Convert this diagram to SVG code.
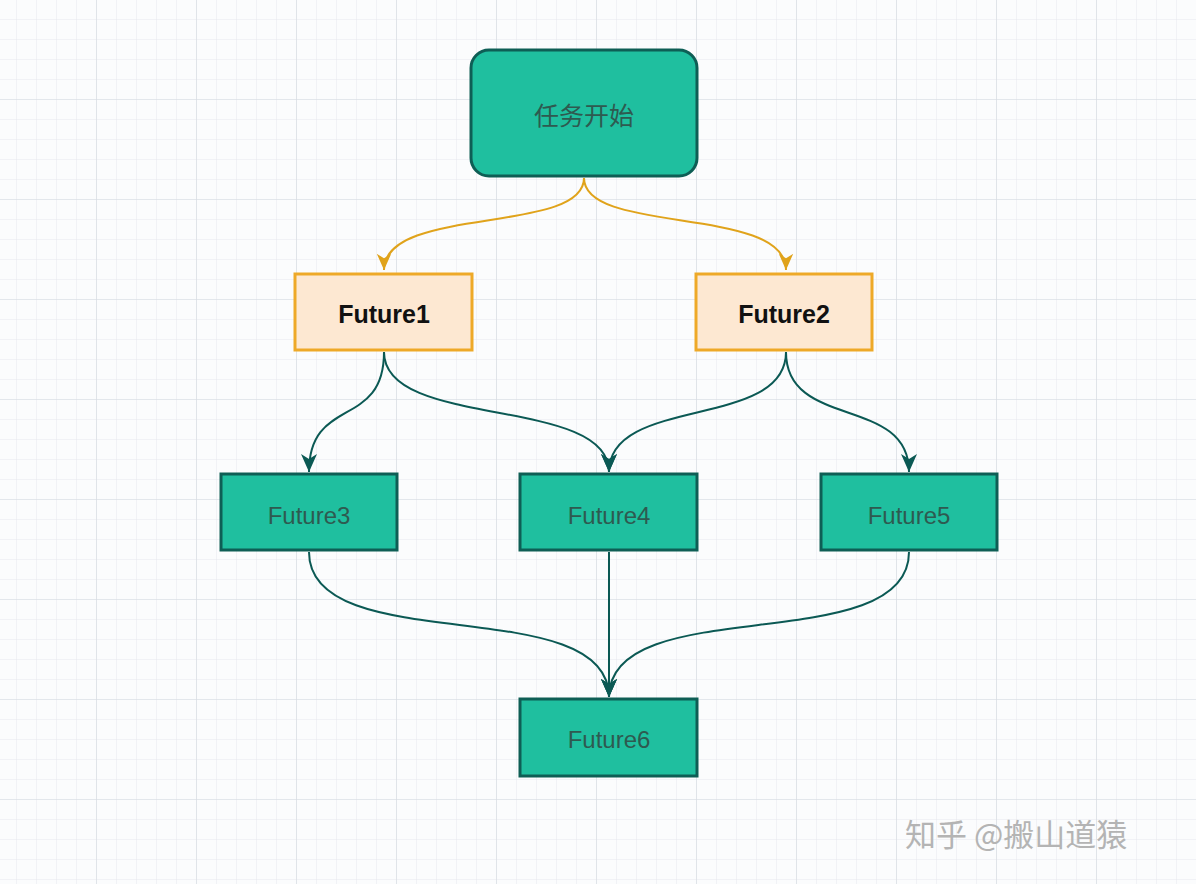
<svg xmlns="http://www.w3.org/2000/svg" width="1196" height="884" viewBox="0 0 1196 884">
<defs>
<pattern id="minor" width="20" height="20" patternUnits="userSpaceOnUse" x="17" y="0"><path d="M20 0V20M0 20H20" fill="none" stroke="#e6e9ee" stroke-width="1"/></pattern>
<pattern id="major" width="100" height="100" patternUnits="userSpaceOnUse" x="-3" y="0"><path d="M100 0V100M0 100H100" fill="none" stroke="#d6dbe2" stroke-width="1.2"/></pattern>
<marker id="at" viewBox="0 0 20 20" markerWidth="20" markerHeight="20" refX="18" refY="10" orient="auto" markerUnits="userSpaceOnUse"><path d="M0 2L18 10L0 18L5 10Z" fill="#0b5954"/></marker>
<marker id="ao2" viewBox="0 0 20 20" markerWidth="18" markerHeight="18" refX="18" refY="10" orient="auto" markerUnits="userSpaceOnUse"><path d="M0 2L18 10L0 18L5 10Z" fill="#e0a31b"/></marker>
</defs>
<style>
.g{fill:#1fbf9f;stroke:#0e5e55;stroke-width:3}
.o{fill:#fde8d2;stroke:#eea928;stroke-width:3}
.tg{font-family:"Liberation Sans",Arial,sans-serif;font-size:24px;fill:#2e5a50;text-anchor:middle;dominant-baseline:central}
.to{font-family:"Liberation Sans",Arial,sans-serif;font-size:25px;font-weight:bold;fill:#111;text-anchor:middle;dominant-baseline:central}
.co{fill:none;stroke:#e0a31b;stroke-width:2}
.ct{fill:none;stroke:#0b5954;stroke-width:2}
</style>
<rect width="1196" height="884" fill="#fbfcfd"/>
<rect width="1196" height="884" fill="url(#minor)"/>
<rect width="1196" height="884" fill="url(#major)"/>
<g id="connectors">
<path class="co" d="M584 178C584 235 384 205 384 270" marker-end="url(#ao2)"/>
<path class="co" d="M584 178C584 235 786 205 786 270" marker-end="url(#ao2)"/>
<path class="ct" d="M384 352C384 430 309 395 309 472" marker-end="url(#at)"/>
<path class="ct" d="M384 352C384 430 609 395 609 472" marker-end="url(#at)"/>
<path class="ct" d="M786 352C786 430 609 395 609 472" marker-end="url(#at)"/>
<path class="ct" d="M786 352C786 430 909 395 909 472" marker-end="url(#at)"/>
<path class="ct" d="M309 552C309 660 609 590 609 697" marker-end="url(#at)"/>
<path class="ct" d="M609 552V697" marker-end="url(#at)"/>
<path class="ct" d="M909 552C909 660 609 590 609 697" marker-end="url(#at)"/>
</g>
<g id="start"><rect class="g" x="471" y="50" width="226" height="126" rx="18"/><text class="tg" x="584" y="114" style="font-family:'Noto Sans CJK SC',sans-serif;font-size:25px">任务开始</text></g>
<g id="f1"><rect class="o" x="295" y="274" width="177" height="76"/><text class="to" x="384" y="314">Future1</text></g>
<g id="f2"><rect class="o" x="696" y="274" width="176" height="76"/><text class="to" x="784" y="314">Future2</text></g>
<g id="f3"><rect class="g" x="221" y="474" width="176" height="76"/><text class="tg" x="309" y="515">Future3</text></g>
<g id="f4"><rect class="g" x="520" y="474" width="177" height="76"/><text class="tg" x="609" y="515">Future4</text></g>
<g id="f5"><rect class="g" x="821" y="474" width="176" height="76"/><text class="tg" x="909" y="515">Future5</text></g>
<g id="f6"><rect class="g" x="520" y="699" width="177" height="77"/><text class="tg" x="609" y="739">Future6</text></g>
<text x="905" y="846" style="font-family:'Noto Sans CJK SC',sans-serif;font-size:31px;fill:#b4b4b4">知乎 @搬山道猿</text>
</svg>
